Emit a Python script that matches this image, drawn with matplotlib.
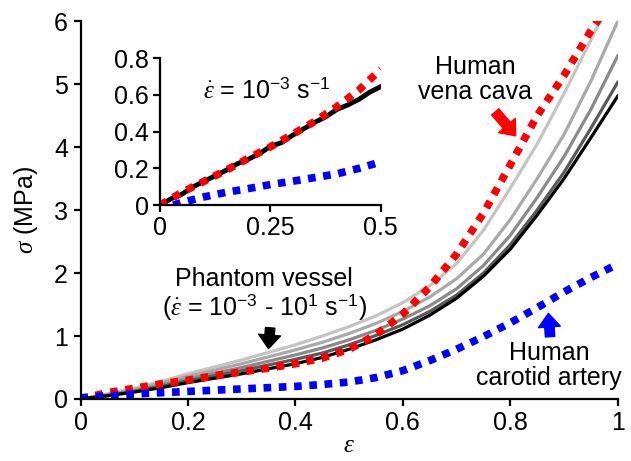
import matplotlib
matplotlib.use("Agg")
import matplotlib.pyplot as plt

plt.rcParams['font.family'] = ['Liberation Sans', 'DejaVu Sans']
plt.rcParams['mathtext.fontset'] = 'custom'
plt.rcParams['mathtext.rm'] = 'Liberation Sans'
plt.rcParams['mathtext.it'] = 'Liberation Serif:italic'

# Strain grid for the main-panel curves
strain = [0, .05, .1, .15, .2, .25, .3, .35, .4, .45, .5,
          .55, .6, .65, .7, .75, .8, .85, .9, .95, 1.0]

# Phantom vessel, five strain rates (lightest -> black)
phantom_1 = [0, 0.08, 0.17, 0.28, 0.40, 0.51, 0.62, 0.74, 0.86, 1.00, 1.15,
             1.32, 1.53, 1.80, 2.15, 2.68, 3.35, 4.05, 4.85, 5.70, 6.60]
phantom_2 = [0, 0.07, 0.15, 0.25, 0.36, 0.46, 0.56, 0.67, 0.78, 0.90, 1.04,
             1.20, 1.39, 1.62, 1.91, 2.30, 2.85, 3.50, 4.20, 5.05, 6.00]
phantom_3 = [0, 0.06, 0.13, 0.22, 0.32, 0.41, 0.50, 0.60, 0.70, 0.81, 0.94,
             1.09, 1.27, 1.48, 1.75, 2.12, 2.60, 3.20, 3.85, 4.60, 5.45]
phantom_4 = [0, 0.055, 0.12, 0.20, 0.29, 0.37, 0.45, 0.54, 0.63, 0.73, 0.86,
             1.01, 1.18, 1.39, 1.65, 2.00, 2.45, 3.00, 3.60, 4.30, 5.03]
phantom_5 = [0, 0.05, 0.11, 0.18, 0.26, 0.33, 0.40, 0.48, 0.56, 0.66, 0.79,
             0.94, 1.11, 1.33, 1.60, 1.95, 2.38, 2.92, 3.50, 4.15, 4.81]
phantom_colors = ['#c4c4c4', '#a9a9a9', '#8a8a8a', '#5a5a5a', '#000000']

vena_x = [0, .05, .1, .15, .2, .25, .3, .35, .4, .45, .5,
          .55, .6, .65, .7, .75, .8, .85, .9, .95, 0.97]
vena_y = [0, 0.10, 0.17, 0.24, 0.30, 0.37, 0.43, 0.49, 0.56, 0.65, 0.79,
          1.02, 1.35, 1.78, 2.30, 2.95, 3.72, 4.50, 5.14, 5.85, 6.10]

carotid_x = [0, .05, .1, .15, .2, .25, .3, .35, .4, .45, .5,
             .55, .6, .65, .7, .75, .8, .85, .9, .95, 0.99]
carotid_y = [0.02, 0.05, 0.08, 0.10, 0.12, 0.14, 0.16, 0.18, 0.20, 0.23, 0.27,
             0.34, 0.45, 0.61, 0.79, 0.99, 1.21, 1.45, 1.70, 1.93, 2.10]

# Inset (strain rate 1e-3 s^-1)
inset_x = [0, .025, .05, .075, .1, .125, .15, .175, .2, .225, .25,
           .275, .3, .325, .35, .375, .4, .425, .45, .475, .5]
inset_phantom = [0, 0.035, 0.06, 0.10, 0.13, 0.16, 0.19, 0.225, 0.25, 0.28, 0.32,
                 0.34, 0.38, 0.415, 0.45, 0.48, 0.52, 0.545, 0.575, 0.615, 0.645]
inset_vena_x = [0, .05, .1, .15, .2, .25, .3, .35, .4, .45, .5]
inset_vena_y = [0, 0.07, 0.13, 0.19, 0.255, 0.317, 0.385, 0.455, 0.535, 0.625, 0.74]
inset_car_x = [0.03, .05, .1, .15, .2, .25, .3, .35, .4, .45, .5]
inset_car_y = [0.0, 0.015, 0.045, 0.07, 0.09, 0.112, 0.13, 0.15, 0.17, 0.20, 0.235]

main_xticks = [0, 0.2, 0.4, 0.6, 0.8, 1]
main_xlabels = ['0', '0.2', '0.4', '0.6', '0.8', '1']
main_yticks = [0, 1, 2, 3, 4, 5, 6]
inset_xticks = [0, 0.25, 0.5]
inset_xlabels = ['0', '0.25', '0.5']
inset_yticks = [0, 0.2, 0.4, 0.6, 0.8]
inset_ylabels = ['0', '0.2', '0.4', '0.6', '0.8']

FS = 18
dotted = (0, (1, 1))

fig = plt.figure(figsize=(6.31, 4.61), dpi=100)
ax = fig.add_axes([0.1276, 0.1345, 0.8514, 0.8195])

for ys, c in zip([phantom_1, phantom_2, phantom_3, phantom_4, phantom_5], phantom_colors):
    ax.plot(strain, ys, color=c, lw=2.3)
ax.plot(vena_x, vena_y, color='#ff0000', lw=5.5, linestyle=dotted, dash_capstyle='butt')
ax.plot(carotid_x, carotid_y, color='#0000ff', lw=5.5, linestyle=dotted, dash_capstyle='butt')

ax.set_xlim(0, 1)
ax.set_ylim(0, 6)
ax.set_xticks(main_xticks)
ax.set_xticklabels(main_xlabels)
ax.set_yticks(main_yticks)
for s in ['top', 'right']:
    ax.spines[s].set_visible(False)
for s in ['left', 'bottom']:
    ax.spines[s].set_linewidth(1.6)
ax.tick_params(labelsize=FS, width=1.6, length=5, pad=4)
ax.set_xlabel(r'$\varepsilon$', fontsize=FS, labelpad=-2)
ax.set_ylabel(r'$\sigma$ (MPa)', fontsize=FS, labelpad=10)

# Annotations
ax.text(0.735, 5.08, 'Human\nvena cava', fontsize=FS, ha='center', va='center', linespacing=1.05)
ax.text(0.342, 1.66, 'Phantom vessel\n(' + r'$\dot{\varepsilon}$ = 10$^{-3}$ - 10$^{1}$ s$^{-1}$)',
        fontsize=FS, ha='center', va='center', linespacing=1.05)
ax.text(0.872, 0.53, 'Human\ncarotid artery', fontsize=FS, ha='center', va='center', linespacing=1.05)

# Block arrows
arrow_style = 'simple,head_length=0.65,head_width=1.05,tail_width=0.45'
ax.annotate('', xy=(0.81, 4.18), xytext=(0.772, 4.56),
            arrowprops=dict(arrowstyle=arrow_style, color='#ff0000', mutation_scale=15, shrinkA=0, shrinkB=0))
ax.annotate('', xy=(0.35, 0.80), xytext=(0.353, 1.13),
            arrowprops=dict(arrowstyle=arrow_style, color='black', mutation_scale=15, shrinkA=0, shrinkB=0))
ax.annotate('', xy=(0.871, 1.36), xytext=(0.874, 0.99),
            arrowprops=dict(arrowstyle=arrow_style, color='#0000ff', mutation_scale=15, shrinkA=0, shrinkB=0))

# Inset
axi = fig.add_axes([0.2536, 0.555, 0.350, 0.319])
axi.patch.set_alpha(0)
axi.plot(inset_x, inset_phantom, color='black', lw=3.5)
axi.plot(inset_vena_x, inset_vena_y, color='#ff0000', lw=5.5, linestyle=dotted, dash_capstyle='butt')
axi.plot(inset_car_x, inset_car_y, color='#0000ff', lw=5.5, linestyle=dotted, dash_capstyle='butt')
axi.set_xlim(0, 0.5)
axi.set_ylim(0, 0.8)
axi.set_xticks(inset_xticks)
axi.set_xticklabels(inset_xlabels)
axi.set_yticks(inset_yticks)
axi.set_yticklabels(inset_ylabels)
for s in ['top', 'right']:
    axi.spines[s].set_visible(False)
for s in ['left', 'bottom']:
    axi.spines[s].set_linewidth(1.6)
axi.tick_params(labelsize=FS, width=1.6, length=5, pad=3)
axi.text(0.242, 0.626, r'$\dot{\varepsilon}$ = 10$^{-3}$ s$^{-1}$', fontsize=FS, ha='center', va='center')

fig.savefig('out.png', dpi=100)
